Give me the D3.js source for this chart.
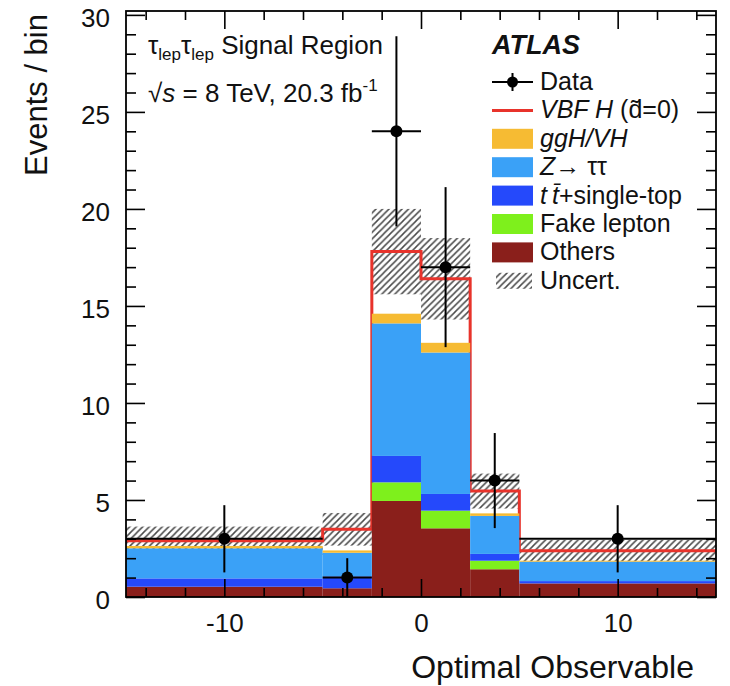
<!DOCTYPE html>
<html>
<head>
<meta charset="utf-8">
<script src="https://cdn.jsdelivr.net/npm/d3@7"></script>
<style>
  body { margin: 0; background: #fff; }
  text { font-family: "Liberation Sans", Arial, Helvetica, sans-serif; fill: #111; }
</style>
</head>
<body>
<div id="chart"></div>
<script>
// histogram bins of the Optimal Observable
var binEdges = [-15, -5, -2.5, 0, 2.5, 5, 15];

// stacked backgrounds, bottom to top (events / bin)
var others     = [0.53, 0.45, 4.95, 3.54, 1.43, 0.70];
var fakeLepton = [0.00, 0.00, 0.96, 0.91, 0.44, 0.00];
var topSingle  = [0.43, 0.61, 1.36, 0.86, 0.35, 0.12];
var zTauTau    = [1.55, 1.22, 6.83, 7.29, 1.96, 1.00];
var ggHVH      = [0.12, 0.12, 0.50, 0.50, 0.13, 0.05];
// signal stacked on top, drawn as a line
var vbfH       = [0.27, 1.09, 3.20, 3.30, 1.15, 0.52];
// absolute uncertainty on the total prediction
var uncert     = [0.73, 0.84, 2.20, 2.10, 0.90, 0.55];
// observed events
var dataCounts = [3, 1, 24, 17, 6, 3];

var xMajor = [-10, 0, 10];
var xMinor = [-14, -12, -8, -6, -4, -2, 2, 4, 6, 8, 12, 14];
var yMajor = [0, 5, 10, 15, 20, 25, 30];
var yMinor = d3.range(0, 31).filter(function (v) { return v % 5 !== 0; });

var colors = {
    others: "#8a1f1b",
    fake: "#7ef01c",
    top: "#2549fb",
    ztt: "#3aa1f7",
    ggh: "#f6bb33"
};
var redLine = "#e8332b";

// plot frame
var W = 730, H = 686;
var frameL = 126, frameR = 716, frameT = 11, frameB = 597;

var svg = d3.select("#chart").append("svg")
    .attr("width", W)
    .attr("height", H);

var defs = svg.append("defs");
var pat = defs.append("pattern")
    .attr("id", "hatch")
    .attr("patternUnits", "userSpaceOnUse")
    .attr("width", 6.5)
    .attr("height", 6.5);
pat.append("path")
    .attr("d", "M-1,1 l2,-2 M0,6.5 l6.5,-6.5 M5.5,7.5 l2,-2")
    .attr("stroke", "#4a4a4a")
    .attr("stroke-width", 1.5);

var x = d3.scaleLinear().domain([-15, 15]).range([frameL, frameR]);
var y = d3.scaleLinear().domain([0, 30.2]).range([frameB, frameT]);

// one row per bin for d3.stack
var rows = binEdges.slice(0, -1).map(function (lo, i) {
    return {
        lo: lo, hi: binEdges[i + 1],
        others: others[i], fake: fakeLepton[i], top: topSingle[i],
        ztt: zTauTau[i], ggh: ggHVH[i]
    };
});
var keys = ["others", "fake", "top", "ztt", "ggh"];
var stacked = d3.stack().keys(keys)(rows);

var totals = rows.map(function (r, i) {
    return r.others + r.fake + r.top + r.ztt + r.ggh + vbfH[i];
});

// uncertainty band (behind the fills)
svg.append("g").selectAll("rect")
    .data(rows)
    .enter().append("rect")
    .attr("x", function (d) { return x(d.lo); })
    .attr("width", function (d) { return x(d.hi) - x(d.lo); })
    .attr("y", function (d, i) { return y(totals[i] + uncert[i]); })
    .attr("height", function (d, i) { return y(totals[i] - uncert[i]) - y(totals[i] + uncert[i]); })
    .attr("fill", "url(#hatch)");

// VBF H outline (total prediction)
var stepPts = rows.map(function (d, i) { return [d.lo, totals[i]]; });
stepPts.push([15, totals[totals.length - 1]]);
svg.append("path")
    .datum(stepPts)
    .attr("fill", "none")
    .attr("stroke", redLine)
    .attr("stroke-width", 3)
    .attr("d", d3.line()
        .x(function (d) { return x(d[0]); })
        .y(function (d) { return y(d[1]); })
        .curve(d3.curveStepAfter));

// stacked backgrounds
svg.append("g").selectAll("g")
    .data(stacked)
    .enter().append("g")
    .attr("fill", function (s) { return colors[s.key]; })
    .selectAll("rect")
    .data(function (s) { return s; })
    .enter().append("rect")
    .attr("x", function (d) { return x(d.data.lo); })
    .attr("width", function (d) { return x(d.data.hi) - x(d.data.lo); })
    .attr("y", function (d) { return y(d[1]); })
    .attr("height", function (d) { return y(d[0]) - y(d[1]); });

// data points with sqrt(N) errors
var pts = svg.append("g").selectAll("g")
    .data(rows)
    .enter().append("g");
pts.append("line")
    .attr("x1", function (d) { return x(d.lo); })
    .attr("x2", function (d) { return x(d.hi); })
    .attr("y1", function (d, i) { return y(dataCounts[i]); })
    .attr("y2", function (d, i) { return y(dataCounts[i]); })
    .attr("stroke", "#000").attr("stroke-width", 2);
pts.append("line")
    .attr("x1", function (d) { return x((d.lo + d.hi) / 2); })
    .attr("x2", function (d) { return x((d.lo + d.hi) / 2); })
    .attr("y1", function (d, i) { return y(dataCounts[i] + Math.sqrt(dataCounts[i])); })
    .attr("y2", function (d, i) { return y(Math.max(0, dataCounts[i] - Math.sqrt(dataCounts[i]))); })
    .attr("stroke", "#000").attr("stroke-width", 2);
pts.append("circle")
    .attr("cx", function (d) { return x((d.lo + d.hi) / 2); })
    .attr("cy", function (d, i) { return y(dataCounts[i]); })
    .attr("r", 6)
    .attr("fill", "#000");

// axes: ticks inside the frame on all four sides
function styleAxis(g) {
    g.select(".domain").remove();
    g.selectAll("line").attr("stroke", "#000").attr("stroke-width", 1.6);
    g.selectAll("text")
        .attr("font-size", 26)
        .attr("font-family", "'Liberation Sans', Arial, Helvetica, sans-serif")
        .attr("fill", "#111");
}
var plain = function (d) { return String(d); };

svg.append("g").attr("transform", "translate(0," + frameB + ")")
    .call(d3.axisBottom(x).tickValues(xMajor).tickSize(-18).tickPadding(17).tickFormat(plain))
    .call(styleAxis);
svg.append("g").attr("transform", "translate(0," + frameB + ")")
    .call(d3.axisBottom(x).tickValues(xMinor).tickSize(-9).tickFormat(""))
    .call(styleAxis);
svg.append("g").attr("transform", "translate(0," + frameT + ")")
    .call(d3.axisTop(x).tickValues(xMajor).tickSize(-18).tickFormat(""))
    .call(styleAxis);
svg.append("g").attr("transform", "translate(0," + frameT + ")")
    .call(d3.axisTop(x).tickValues(xMinor).tickSize(-9).tickFormat(""))
    .call(styleAxis);

var yl = svg.append("g").attr("transform", "translate(" + frameL + ",0)")
    .call(d3.axisLeft(y).tickValues(yMajor).tickSize(-19).tickPadding(16).tickFormat(plain))
    .call(styleAxis);
yl.selectAll("text").attr("dy", "0.45em");
svg.append("g").attr("transform", "translate(" + frameL + ",0)")
    .call(d3.axisLeft(y).tickValues(yMinor).tickSize(-10).tickFormat(""))
    .call(styleAxis);
svg.append("g").attr("transform", "translate(" + frameR + ",0)")
    .call(d3.axisRight(y).tickValues(yMajor).tickSize(-19).tickFormat(""))
    .call(styleAxis);
svg.append("g").attr("transform", "translate(" + frameR + ",0)")
    .call(d3.axisRight(y).tickValues(yMinor).tickSize(-10).tickFormat(""))
    .call(styleAxis);

svg.append("rect")
    .attr("x", frameL).attr("y", frameT)
    .attr("width", frameR - frameL).attr("height", frameB - frameT)
    .attr("fill", "none")
    .attr("stroke", "#000")
    .attr("stroke-width", 1.8);

// axis titles
svg.append("text")
    .attr("x", 694).attr("y", 678)
    .attr("text-anchor", "end")
    .attr("font-size", 32)
    .text("Optimal Observable");
svg.append("text")
    .attr("transform", "translate(47,14) rotate(-90)")
    .attr("text-anchor", "end")
    .attr("font-size", 31)
    .text("Events / bin");

// region label
var t1 = svg.append("text").attr("x", 148).attr("y", 54).attr("font-size", 26);
t1.append("tspan").text("τ");
t1.append("tspan").attr("font-size", 17).attr("dy", 6).text("lep");
t1.append("tspan").attr("dy", -6).text("τ");
t1.append("tspan").attr("font-size", 17).attr("dy", 6).text("lep");
t1.append("tspan").attr("dy", -6).text(" Signal Region");

var t2 = svg.append("text").attr("x", 148).attr("y", 102).attr("font-size", 26);
t2.append("tspan").text("√");
t2.append("tspan").attr("font-style", "italic").text("s");
t2.append("tspan").text(" = 8 TeV, 20.3 fb");
t2.append("tspan").attr("font-size", 17).attr("dy", -11).text("-1");

// legend
var lgX = 492, lgW = 41, lgY0 = 82, lgStep = 28.4;
svg.append("text")
    .attr("x", lgX).attr("y", 54)
    .attr("font-size", 27)
    .attr("font-weight", "bold")
    .attr("font-style", "italic")
    .text("ATLAS");

var lg = svg.append("g");
// Data
lg.append("line").attr("x1", lgX).attr("x2", lgX + lgW)
    .attr("y1", lgY0).attr("y2", lgY0)
    .attr("stroke", "#000").attr("stroke-width", 2);
lg.append("line").attr("x1", lgX + lgW / 2).attr("x2", lgX + lgW / 2)
    .attr("y1", lgY0 - 9).attr("y2", lgY0 + 9)
    .attr("stroke", "#000").attr("stroke-width", 2);
lg.append("circle").attr("cx", lgX + lgW / 2).attr("cy", lgY0).attr("r", 5.5).attr("fill", "#000");
// VBF
lg.append("line").attr("x1", lgX).attr("x2", lgX + lgW)
    .attr("y1", lgY0 + lgStep).attr("y2", lgY0 + lgStep)
    .attr("stroke", redLine).attr("stroke-width", 3);
// filled boxes
var boxKeys = ["ggh", "ztt", "top", "fake", "others"];
boxKeys.forEach(function (k, i) {
    lg.append("rect")
        .attr("x", lgX).attr("y", lgY0 + (i + 2) * lgStep - 10)
        .attr("width", lgW).attr("height", 20)
        .attr("fill", colors[k]);
});
lg.append("rect")
    .attr("x", lgX + 4).attr("y", lgY0 + 7 * lgStep - 8)
    .attr("width", lgW - 5).attr("height", 16)
    .attr("fill", "url(#hatch)");

var lx = 540, fs = 25;
function lgText(i) {
    return lg.append("text").attr("x", lx).attr("y", lgY0 + i * lgStep + 8).attr("font-size", fs);
}
lgText(0).text("Data");
var e1 = lgText(1);
e1.append("tspan").attr("font-style", "italic").text("VBF H");
e1.append("tspan").text(" (d\u0303=0)");
lgText(2).append("tspan").attr("font-style", "italic").text("ggH/VH");
var e3 = lgText(3);
e3.append("tspan").attr("font-style", "italic").text("Z");
e3.append("tspan").text("\u2192 ττ");
var e4 = lgText(4);
e4.append("tspan").attr("font-style", "italic").text("t\u2009t\u0304");
e4.append("tspan").text("+single-top");
lgText(5).text("Fake lepton");
lgText(6).text("Others");
lgText(7).text("Uncert.");
</script>
</body>
</html>
